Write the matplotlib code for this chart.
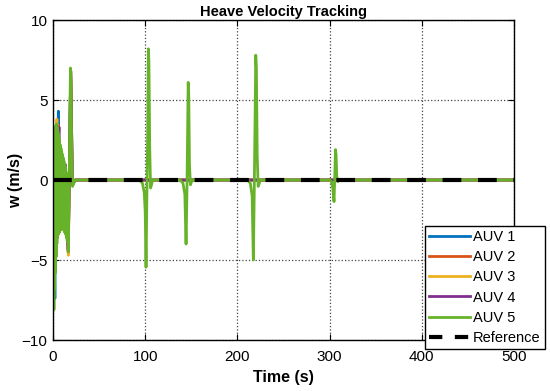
import numpy as np
import matplotlib
matplotlib.use("Agg")
import matplotlib.pyplot as plt

plt.rcParams['font.family'] = ['Liberation Sans', 'DejaVu Sans']

# time / value keypoints
t_end = 500

# AUV 5 (green, drawn on top)
t5 = [0, 0.5, 1.0, 1.4, 1.8, 2.2, 2.6, 3.0, 3.4, 3.8, 4.2, 4.6, 5.0, 5.4, 5.8, 6.2, 6.6,
      7.0, 7.4, 7.8, 8.2, 8.6, 9.0, 9.4, 9.8, 10.2, 10.6, 11.0, 11.4, 11.8, 12.2, 12.6,
      13.0, 13.4, 13.8, 14.2, 14.6, 15.0, 15.4, 15.8, 16.6, 17.5, 18.3, 18.9, 19.5, 20.3,
      21.2, 22.5, 24.0,
      94, 97, 99, 100, 100.9, 101.8, 102.7, 103.4, 104.0, 104.9, 105.8, 106.8, 108,
      138, 141, 143, 144.3, 145.2, 146.0, 146.6, 147.2, 148.0, 149.0, 151,
      211, 214, 216, 217.3, 218.2, 219.2, 219.9, 220.6, 221.5, 222.5, 225,
      300, 302, 303.5, 304.8, 305.6, 306.4, 307.0, 307.8, 309, 311,
      t_end]
w5 = [0, -2.0, -8.1, 2.2, -6.8, 3.0, -5.8, 3.4, -4.8, 3.5, -4.0, 3.3, -3.6, 3.0, -3.4,
      2.7, -3.3, 2.5, -3.2, 2.2, -3.1, 2.0, -3.0, 1.8, -3.0, 1.6, -3.0, 1.4, -3.1, 1.2,
      -3.2, 1.0, -3.3, 0.8, -3.4, 0.5, -3.6, 0.3, -3.8, 0.0, -4.5, -0.5, 4.0, 7.0, 6.0,
      1.5, -0.4, -0.2, 0,
      0, -0.2, -0.8, -2.0, -5.45, -1.0, 3.0, 8.2, 7.4, 2.0, -0.5, -0.3, 0,
      0, -0.2, -0.9, -4.0, -1.0, 3.0, 6.1, 5.4, 1.0, -0.3, 0,
      0, -0.2, -1.0, -5.0, -1.0, 4.0, 7.8, 7.0, 1.5, -0.4, 0,
      0, -0.1, -0.5, -1.35, 0.2, 1.9, 1.6, 0.2, -0.1, 0,
      0]

# AUV 1..4, only visible during the first 20 s
t1 = [0, 1.0, 2.0, 3.0, 4.0, 5.0, 5.8, 6.4, 7.2, 8.5, 10.0, 12.0, 14.0, 16.5, 19.2, 21.0, 24.0, t_end]
w1 = [0, -3.0, -7.4, 1.5, -3.0, 1.0, 4.3, -1.4, -2.5, 1.0, -1.5, 0.8, -1.8, -4.4, 6.8, -0.3, 0, 0]

t2 = [0, 1.0, 2.0, 3.0, 4.0, 5.0, 6.0, 7.0, 8.5, 10.0, 12.0, 13.0, 14.5, 16.5, 19.2, 21.0, 24.0, t_end]
w2 = [0, -2.5, -4.5, 1.2, -2.0, -2.7, 3.4, -2.0, 1.5, -1.5, 0.9, -1.8, -1.2, -4.5, 6.8, -0.3, 0, 0]

t3 = [0, 1.0, 2.0, 3.0, 4.2, 5.0, 6.0, 7.0, 8.5, 10.0, 12.0, 13.5, 14.5, 16.6, 19.2, 21.0, 24.0, t_end]
w3 = [0, -2.0, -5.0, 1.0, 3.8, -2.0, 2.5, -1.5, 1.0, -1.8, 0.5, -1.6, -1.0, -4.7, 6.9, -0.3, 0, 0]

t4 = [0, 1.0, 2.0, 3.0, 4.0, 5.0, 6.5, 7.6, 8.7, 10.0, 11.0, 12.0, 13.0, 14.5, 16.5, 19.2, 21.0, 24.0, t_end]
w4 = [0, -2.0, -4.0, 1.0, -1.5, 1.5, 3.3, -1.0, -3.1, 1.4, 1.3, -2.0, 1.0, -1.5, -4.4, 6.8, -0.3, 0, 0]

t_ref = [0, t_end]
w_ref = [0, 0]

colors = ['#0072BD', '#D95319', '#EDB120', '#7E2F8E', '#66B228']
labels = ['AUV 1', 'AUV 2', 'AUV 3', 'AUV 4', 'AUV 5']

fig = plt.figure(figsize=(5.5, 3.91), dpi=100)
ax = fig.add_axes([0.0964, 0.1304, 0.8381, 0.8184])

series = [(t1, w1), (t2, w2), (t3, w3), (t4, w4), (t5, w5)]
for (t, w), c, lab in zip(series, colors, labels):
    ax.plot(t, w, color=c, lw=2, label=lab)
ax.plot(t_ref, w_ref, 'k--', lw=3, dashes=(4.5, 4), label='Reference')

ax.set_xlim(0, 500)
ax.set_ylim(-10, 10)
ax.set_xticks(np.arange(0, 501, 100))
ax.set_yticks([-10, -5, 0, 5, 10])
ax.grid(True, linestyle=':', color='#444444', lw=0.9)
ax.tick_params(direction='in', top=True, right=True, labelsize=11, length=4)
ax.tick_params(axis='x', pad=7.5)
ax.tick_params(axis='y', pad=4)
for s in ax.spines.values():
    s.set_linewidth(1.0)
ax.set_xlabel('Time (s)', fontsize=11.5, fontweight='bold', labelpad=4)
ax.set_ylabel('w (m/s)', fontsize=11.5, fontweight='bold', labelpad=-1)
ax.set_title('Heave Velocity Tracking', fontsize=10.5, fontweight='bold', pad=3)

h, l = ax.get_legend_handles_labels()
leg = fig.legend(h, l, loc='lower right', bbox_to_anchor=(0.991, 0.107),
                 fontsize=10.5, frameon=True, fancybox=False, edgecolor='black',
                 framealpha=1, handlelength=2.8, handletextpad=0.2, labelspacing=0.42,
                 borderpad=0.3, borderaxespad=0)
leg.get_frame().set_linewidth(1.0)
# make the reference handle look like two dashes, as in the original
leg.get_lines()[-1].set_dashes((3.2, 3.0))

fig.savefig('out.png', dpi=100)
